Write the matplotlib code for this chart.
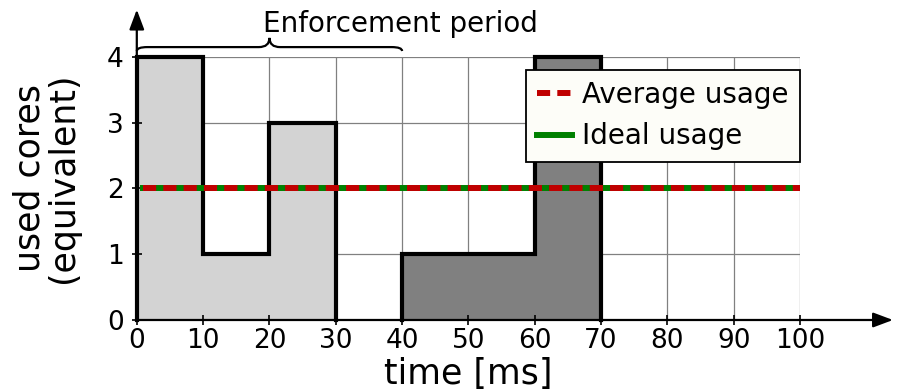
import numpy as np
import matplotlib
matplotlib.use("Agg")
import matplotlib.pyplot as plt
from matplotlib.path import Path
from matplotlib.patches import PathPatch

# usage per 10 ms slot
slot_edges = [0, 10, 20, 30, 40, 50, 60, 70]
usage = [4, 1, 3, 0, 1, 1, 4]
period_end = 40
average_usage = 2
ideal_usage = 2
xticks = [0, 10, 20, 30, 40, 50, 60, 70, 80, 90, 100]
yticks = [0, 1, 2, 3, 4]

fig = plt.figure(figsize=(9, 3.92), dpi=100)
ax = fig.add_axes([0.152, 0.1837, 0.737, 0.671])
ax.set_xlim(0, 100)
ax.set_ylim(0, 4)

# grid box
for x in xticks:
    ax.plot([x, x], [0, 4], color="gray", lw=0.9, zorder=0.5)
for y in yticks[1:]:
    ax.plot([0, 100], [y, y], color="gray", lw=0.9, zorder=0.5)

# filled slots, light inside the enforcement period and dark after it
for i, u in enumerate(usage):
    left, right = slot_edges[i], slot_edges[i + 1]
    col = "lightgray" if right <= period_end else "gray"
    if u > 0:
        ax.fill_between([left, right], 0, u, color=col, lw=0, zorder=1)

# step outline for each block of consecutive busy slots
def outline(i0, i1):
    xs, ys = [], []
    for i in range(i0, i1):
        xs += [slot_edges[i], slot_edges[i + 1]]
        ys += [usage[i], usage[i]]
    xs = [slot_edges[i0]] + xs + [slot_edges[i1]]
    ys = [0] + ys + [0]
    ax.plot(xs, ys, color="black", lw=3, zorder=3, solid_joinstyle="miter",
            clip_on=False)

outline(0, 3)
outline(4, 7)

ax.plot([1, 100], [ideal_usage, ideal_usage], color="green", lw=4.3, zorder=4,
        label="Ideal usage")
ax.plot([1, 100], [average_usage, average_usage], color="#c00000", lw=4.3,
        ls=(0, (2.2, 1.2)), zorder=5, label="Average usage")

# axes with arrows
for s in ["top", "right", "left", "bottom"]:
    ax.spines[s].set_visible(False)
arrow = dict(arrowstyle="-|>,head_length=1.2,head_width=0.45",
             color="black", lw=1.6, shrinkA=0, shrinkB=0)
ax.annotate("", xy=(1.14, 0), xytext=(0, 0), xycoords="axes fraction",
            arrowprops=arrow)
ax.annotate("", xy=(0, 1.18), xytext=(0, 0), xycoords="axes fraction",
            arrowprops=arrow)

ax.set_xticks(xticks)
ax.set_yticks(yticks)
ax.tick_params(direction="inout", length=7, width=1.2, labelsize=19)
ax.tick_params(axis="x", pad=2)
ax.tick_params(axis="y", pad=6)
ax.set_xlabel("time [ms]", fontsize=25, labelpad=2.5)
ax.set_ylabel("used cores\n(equivalent)", fontsize=25, linespacing=0.97)
ax.yaxis.set_label_coords(-0.086, 0.54)

# curly brace over the enforcement period
def brace(x0, x1, y, h):
    xm = (x0 + x1) / 2
    w = (x1 - x0)
    q = w * 0.04
    verts = [(x0, y - h * 0.3), (x0, y), (x0 + q, y), (xm - q, y),
             (xm, y), (xm, y + h * 0.7), (xm, y + h * 0.7), (xm, y), (xm + q, y),
             (x1 - q, y), (x1, y), (x1, y - h * 0.3)]
    codes = [Path.MOVETO, Path.CURVE3, Path.CURVE3, Path.LINETO,
             Path.CURVE3, Path.CURVE3, Path.MOVETO, Path.CURVE3, Path.CURVE3,
             Path.LINETO, Path.CURVE3, Path.CURVE3]
    ax.add_patch(PathPatch(Path(verts, codes), fc="none", ec="black", lw=1.6,
                           clip_on=False))

brace(0, period_end, 4.15, 0.2)
ax.text(19, 4.38, "Enforcement period", fontsize=20, va="baseline", ha="left")

handles, labels = ax.get_legend_handles_labels()
leg = ax.legend(handles[::-1], labels[::-1], loc="upper right",
                bbox_to_anchor=(1.0, 1 - 13 / 263), borderaxespad=0,
                fontsize=20, fancybox=False, edgecolor="black",
                facecolor="#fdfdf8", framealpha=1, handlelength=1.26,
                handletextpad=0.36, labelspacing=0.48, borderpad=0.4)
leg.get_frame().set_linewidth(1.3)
leg.set_zorder(10)

fig.savefig("out.png", dpi=100)
